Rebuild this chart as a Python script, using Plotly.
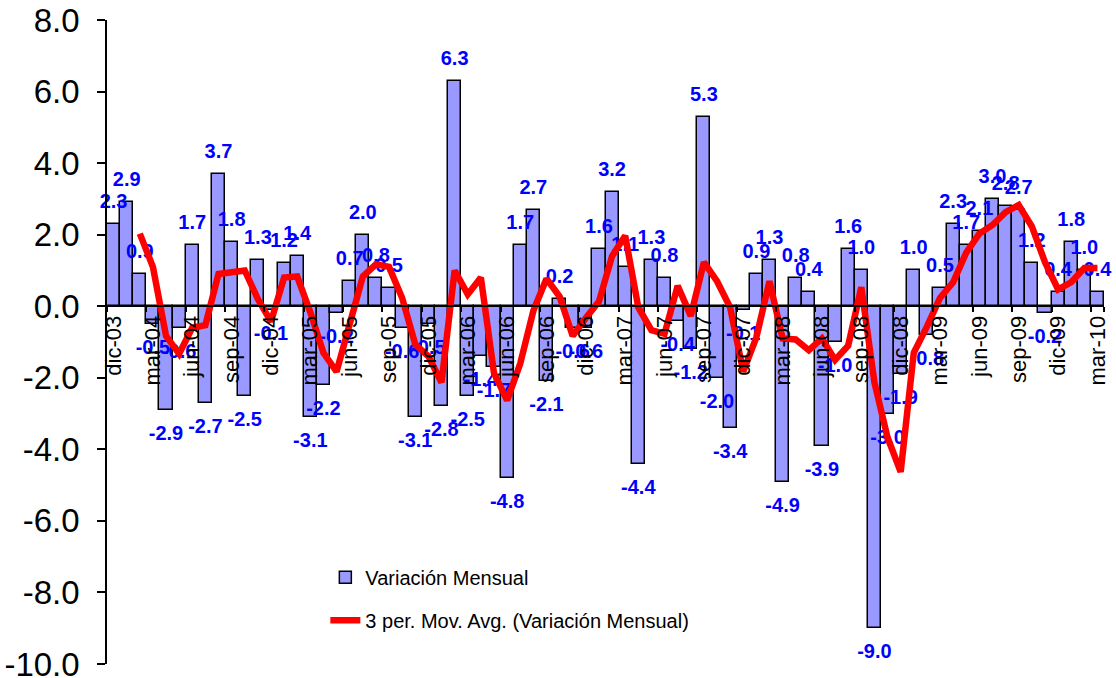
import plotly.graph_objects as go

# ---- data ----
month_names = ["ene", "feb", "mar", "abr", "may", "jun", "jul", "ago", "sep", "oct", "nov", "dic"]
months = ["dic-03"] + [f"{m}-{y:02d}" for y in range(4, 10) for m in month_names] + ["ene-10", "feb-10", "mar-10"]

variacion = [2.3, 2.9, 0.9, -0.5, -2.9, -0.6, 1.7, -2.7, 3.7, 1.8, -2.5, 1.3, -0.1,
             1.2, 1.4, -3.1, -2.2, -0.2, 0.7, 2.0, 0.8, 0.5, -0.6, -3.1, -0.5,
             -2.8, 6.3, -2.5, -1.4, -1.7, -4.8, 1.7, 2.7, -2.1, 0.2, -0.6, -0.6,
             1.6, 3.2, 1.1, -4.4, 1.3, 0.8, -0.4, -1.2, 5.3, -2.0, -3.4, -0.1,
             0.9, 1.3, -4.9, 0.8, 0.4, -3.9, -1.0, 1.6, 1.0, -9.0, -3.0, -1.9,
             1.0, -0.8, 0.5, 2.3, 1.7, 2.1, 3.0, 2.8, 2.7, 1.2, -0.2, 0.4,
             1.8, 1.0, 0.4]

# 3-period moving average as drawn (starts at the third month)
mov_avg_months = months[2:]
mov_avg = [2.03, 1.10, -0.83, -1.33, -0.60, -0.53, 0.90, 0.93, 1.00, 0.20, -0.43,
           0.80, 0.83, -0.17, -1.30, -1.83, -0.57, 0.83, 1.17, 1.10, 0.23, -1.07,
           -1.40, -2.13, 1.00, 0.33, 0.80, -1.87, -2.63, -1.60, -0.13, 0.77, 0.27,
           -0.83, -0.33, 0.13, 1.40, 1.97, -0.03, -0.67, -0.77, 0.57, -0.27, 1.23,
           0.70, -0.03, -1.83, -0.87, 0.70, -0.90, -0.93, -1.23, -0.90, -1.50,
           -1.10, 0.53, -2.13, -3.67, -4.63, -1.30, -0.57, 0.23, 0.67, 1.50, 2.03,
           2.27, 2.63, 2.83, 2.23, 1.23, 0.47, 0.67, 1.07, 1.07]

y_ticks = [8, 6, 4, 2, 0, -2, -4, -6, -8, -10]
y_ticktext = ["8.0", "6.0", "4.0", "2.0", "0.0", "-2.0", "-4.0", "-6.0", "-8.0", "-10.0"]
x_tick_labels = months[::3]

# ---- layout constants ----
W, H = 1116, 678
M_L, M_R, M_T, M_B = 107, 12, 20, 14
Y_MIN, Y_MAX = -10, 8
FONT = "Liberation Sans, Arial, sans-serif"

px_per_unit = (H - M_T - M_B) / (Y_MAX - Y_MIN)
label_gap_up = 21 / px_per_unit
label_gap_down = 25 / px_per_unit
label_y = [v + label_gap_up if v >= 0 else v - label_gap_down for v in variacion]

fig = go.Figure()
fig.add_trace(go.Bar(
    x=months, y=variacion, name="Variación Mensual",
    marker=dict(color="#9999FF", line=dict(color="black", width=1.5)),
    legendgroup="a",
))
fig.add_trace(go.Scatter(
    x=months, y=label_y, mode="text",
    text=[f"{v:.1f}" for v in variacion], textposition="middle center",
    textfont=dict(family=FONT, size=20, color="#0000FF", weight="bold"),
    showlegend=False, hoverinfo="skip", cliponaxis=False,
))
fig.add_trace(go.Scatter(
    x=mov_avg_months, y=mov_avg, mode="lines",
    name="3 per. Mov. Avg. (Variación Mensual)",
    line=dict(color="#FF0000", width=6.5),
    legendgroup="b",
))

fig.update_layout(
    width=W, height=H,
    margin=dict(l=M_L, r=M_R, t=M_T, b=M_B, autoexpand=False),
    paper_bgcolor="white", plot_bgcolor="white",
    bargap=0,
    font=dict(family=FONT, color="black"),
    showlegend=True,
    legend=dict(
        x=0.219, y=0.165, xanchor="left", yanchor="top",
        font=dict(size=20, family=FONT, color="black"),
        bgcolor="rgba(0,0,0,0)", traceorder="grouped", tracegroupgap=14,
    ),
    xaxis=dict(
        type="category", categoryorder="array", categoryarray=months,
        range=[-0.5, len(months) - 0.5], automargin=False,
        anchor="free", position=(0 - Y_MIN) / (Y_MAX - Y_MIN),
        showline=True, linecolor="black", linewidth=1.5,
        ticks="outside", ticklen=5, tickwidth=1.5, tickcolor="black",
        tickson="boundaries",
        tickmode="array", tickvals=x_tick_labels, ticktext=x_tick_labels,
        tickangle=-90, tickfont=dict(size=22, family=FONT, color="black"),
        showgrid=False, zeroline=False,
    ),
    yaxis=dict(
        range=[Y_MIN, Y_MAX], automargin=False,
        tickmode="array", tickvals=y_ticks, ticktext=y_ticktext,
        showline=True, linecolor="black", linewidth=1.5,
        ticks="outside", ticklen=8, tickwidth=1.5, tickcolor="black",
        ticklabelstandoff=11, ticklabeloverflow="allow",
        tickfont=dict(size=33, family=FONT, color="black"),
        showgrid=False, zeroline=False,
    ),
)

fig.write_html("out.html")
